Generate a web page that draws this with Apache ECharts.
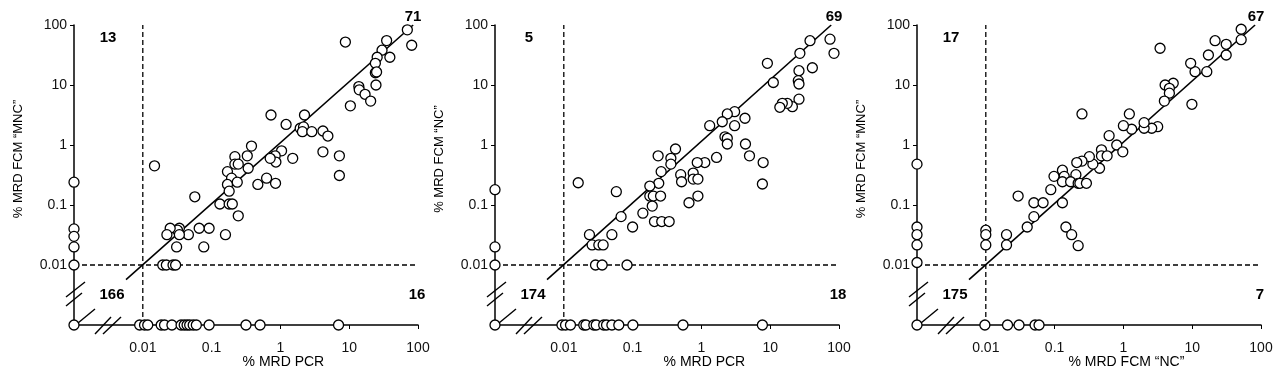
<!DOCTYPE html>
<html><head><meta charset="utf-8">
<script src="https://cdn.jsdelivr.net/npm/echarts@6/dist/echarts.min.js"></script>
<style>html,body{margin:0;padding:0;background:#fff}#c{width:1280px;height:375px}</style>
</head><body><div id="c"></div>
<script>
// ---------- data ----------
const tickValues = [0.01, 0.1, 1, 10, 100];
const tickLabels = ['0.01', '0.1', '1', '10', '100'];

const xTitles = ['% MRD PCR', '% MRD PCR', '% MRD FCM \u201CNC\u201D'];
const yTitles = ['% MRD FCM \u201CMNC\u201D', '% MRD FCM \u201CNC\u201D', '% MRD FCM \u201CMNC\u201D'];

// quadrant counts: [top-left, top-right, bottom-left, bottom-right]
const countsPanel1 = [13, 71, 166, 16];
const countsPanel2 = [5, 69, 174, 18];
const countsPanel3 = [17, 67, 175, 7];

// fitted line end points [x, y]
const linePanel1 = [[0.0057, 0.0057], [85, 100]];
const linePanel2 = [[0.0057, 0.0057], [77, 100]];
const linePanel3 = [[0.0057, 0.0057], [82, 100]];

// Panel 1: x = % MRD PCR, y = % MRD FCM "MNC" (0 = undetectable)
const pcrVsMnc = [
  [8.8,52],[70,83],[81,46],[35,55],[30,38],[39,29],[25.5,29],[24,23],[24,16],[25,16.5],
  [24.5,10],[13.8,9.4],[14,8.3],[17,7],[20.5,5.4],[10.4,4.5],[2.24,3.16],[0.73,3.16],[1.21,2.2],[1.94,1.9],
  [2.17,2.0],[2.09,1.67],[2.86,1.67],[4.15,1.71],[4.9,1.41],[4.15,0.77],[7.2,0.66],[7.2,0.31],[1.51,0.6],[1.04,0.8],
  [0.84,0.66],[0.86,0.52],[0.71,0.6],[0.38,0.96],[0.33,0.66],[0.34,0.41],[0.218,0.64],[0.218,0.48],[0.244,0.48],[0.17,0.36],
  [0.195,0.28],[0.236,0.24],[0.17,0.22],[0.47,0.22],[0.63,0.28],[0.85,0.23],[0.0148,0.45],[0.18,0.17],[0.057,0.137],[0.132,0.104],
  [0.18,0.104],[0.2,0.104],[0.244,0.066],[0.159,0.032],[0.092,0.041],[0.066,0.041],[0.077,0.02],[0.046,0.032],[0.034,0.041],[0.032,0.038],
  [0.034,0.032],[0.025,0.041],[0.0224,0.032],[0.031,0.02],[0.0195,0.01],[0.022,0.01],[0.0275,0.01],[0.030,0.01],
  [0,0.24],[0,0.04],[0,0.03],[0,0.02],[0,0.01],[0,0],
  [0.009,0],[0.0106,0],[0.0118,0],[0.0185,0],[0.0207,0],[0.0265,0],[0.036,0],[0.040,0],[0.044,0],[0.048,0],
  [0.054,0],[0.06,0],[0.092,0],[0.316,0],[0.506,0],[7.0,0]
];

// Panel 2: x = % MRD PCR, y = % MRD FCM "NC"
const pcrVsNc = [
  [74,58],[84.6,33.7],[37.9,54.7],[27,33.7],[41,19.4],[26.2,17.3],[25.6,11.8],[26.2,10.4],[26.2,5.8],[21,4.35],
  [17.7,4.95],[15,4.95],[13.8,4.25],[11.1,11],[9.1,23],[4.3,2.79],[3.04,3.59],[2.38,3.29],[2.01,2.44],[1.32,2.1],
  [3.04,2.1],[2.2,1.37],[2.38,1.29],[2.38,1.04],[4.37,1.04],[5.0,0.66],[7.9,0.51],[7.7,0.224],[1.66,0.62],[1.12,0.51],
  [0.87,0.51],[0.42,0.857],[0.36,0.6],[0.36,0.48],[0.235,0.66],[0.26,0.36],[0.24,0.23],[0.178,0.207],[0.5,0.32],[0.515,0.244],
  [0.76,0.34],[0.76,0.27],[0.89,0.27],[0.0162,0.235],[0.058,0.167],[0.178,0.141],[0.2,0.141],[0.255,0.141],[0.66,0.109],[0.89,0.141],
  [0.193,0.096],[0.141,0.073],[0.068,0.064],[0.1,0.043],[0.05,0.032],[0.208,0.053],[0.265,0.053],[0.34,0.053],[0.0236,0.032],[0.0258,0.0216],
  [0.0323,0.0216],[0.0373,0.0216],[0.0289,0.01],[0.0361,0.01],[0.083,0.01],
  [0,0.18],[0,0.02],[0,0.01],[0,0],
  [0.0094,0],[0.0106,0],[0.0125,0],[0.0195,0],[0.021,0],[0.0273,0],[0.0296,0],[0.038,0],[0.0418,0],[0.05,0],
  [0.063,0],[0.101,0],[0.54,0],[7.7,0]
];

// Panel 3: x = % MRD FCM "NC", y = % MRD FCM "MNC"
const ncVsMnc = [
  [51.5,85],[51.5,57],[31.2,47.7],[31.2,31.6],[21.5,54.7],[17.2,31.6],[16.3,16.7],[11,16.7],[9.5,23],[9.9,4.77],
  [5.3,10.7],[4.04,10],[4.66,8.8],[4.66,7.3],[3.94,5.4],[3.41,41],[3.15,2.02],[2.58,1.9],[2.0,1.9],[2.0,2.36],
  [1.22,3.29],[1.32,1.83],[1.0,2.1],[0.8,1.0],[0.98,0.77],[0.62,1.43],[0.48,0.83],[0.48,0.66],[0.58,0.66],[0.45,0.41],
  [0.36,0.48],[0.32,0.64],[0.25,0.54],[0.21,0.51],[0.25,3.29],[0.204,0.32],[0.13,0.38],[0.138,0.30],[0.098,0.30],[0.13,0.244],
  [0.171,0.244],[0.22,0.23],[0.233,0.23],[0.29,0.23],[0.088,0.18],[0.0295,0.141],[0.05,0.109],[0.068,0.109],[0.13,0.109],[0.05,0.064],
  [0.04,0.043],[0.146,0.043],[0.177,0.032],[0.22,0.021],[0.02,0.032],[0.02,0.0216],[0.01,0.038],[0.01,0.032],[0.01,0.0216],
  [0,0.48],[0,0.043],[0,0.032],[0,0.0216],[0,0.011],[0,0],
  [0.0097,0],[0.0207,0],[0.0304,0],[0.052,0],[0.0594,0]
];

// ---------- chart ----------
const ZERO_AT = 0.001;           // undetectable values are drawn at the axis start
const AXIS_MAX = 100;
const CUT = 0.01;
const FONT = '"Liberation Sans", Arial, Helvetica, sans-serif';

const panels = [
  { data: pcrVsMnc, counts: countsPanel1, line: linePanel1, left: 74 },
  { data: pcrVsNc,  counts: countsPanel2, line: linePanel2, left: 495 },
  { data: ncVsMnc,  counts: countsPanel3, line: linePanel3, left: 917 }
];

const place = v => (v === 0 ? ZERO_AT : v);

function fmt(v) {
  for (let i = 0; i < tickValues.length; i++) {
    if (Math.abs(Math.log10(v) - Math.log10(tickValues[i])) < 0.01) return tickLabels[i];
  }
  return '';
}

const axisCommon = {
  type: 'log', logBase: 10, min: ZERO_AT, max: AXIS_MAX,
  splitLine: { show: false },
  axisLine: { show: true, lineStyle: { color: '#000', width: 1.5 } },
  axisTick: { show: true, length: 4, lineStyle: { color: '#000', width: 1 } },
  minorTick: { show: false },
  axisLabel: { formatter: fmt, color: '#111', fontSize: 14, fontFamily: FONT }
};

const grid = [], xAxis = [], yAxis = [], series = [];
panels.forEach((p, i) => {
  grid.push({ left: p.left, top: 25, width: 344, height: 300 });
  xAxis.push(Object.assign({}, axisCommon, {
    gridIndex: i,
    axisLabel: Object.assign({}, axisCommon.axisLabel, { margin: 16 })
  }));
  yAxis.push(Object.assign({}, axisCommon, {
    gridIndex: i,
    axisLabel: Object.assign({}, axisCommon.axisLabel, { margin: 7 })
  }));
  const dashed = { color: '#000', width: 1.3, type: [5, 3] };
  series.push({
    type: 'line', xAxisIndex: i, yAxisIndex: i, symbol: 'none', silent: true, z: 1,
    lineStyle: dashed, data: [[ZERO_AT, CUT], [AXIS_MAX, CUT]]
  });
  series.push({
    type: 'line', xAxisIndex: i, yAxisIndex: i, symbol: 'none', silent: true, z: 1,
    lineStyle: dashed, data: [[CUT, ZERO_AT], [CUT, AXIS_MAX]]
  });
  series.push({
    type: 'line', xAxisIndex: i, yAxisIndex: i, symbol: 'none', silent: true, z: 1,
    lineStyle: { color: '#000', width: 1.6 }, data: p.line
  });
  series.push({
    type: 'scatter', xAxisIndex: i, yAxisIndex: i, z: 5,
    symbol: 'circle', symbolSize: 10,
    itemStyle: { color: '#fff', borderColor: '#000', borderWidth: 1.3, opacity: 1 },
    data: p.data.map(d => [place(d[0]), place(d[1])])
  });
});

const chart = echarts.init(document.getElementById('c'), null, { renderer: 'canvas' });
chart.setOption({ animation: false, backgroundColor: '#fff', grid, xAxis, yAxis, series });

// ---------- decorations: axis breaks, titles, quadrant counts ----------
const graphic = [];
function seg(x1, y1, x2, y2, w) {
  graphic.push({ type: 'line', z: 10, shape: { x1, y1, x2, y2 },
    style: { stroke: '#000', lineWidth: w || 1.4 } });
}
function txt(x, y, text, font, rot) {
  graphic.push({ type: 'text', z: 10, x, y, rotation: rot || 0,
    style: { text, x: 0, y: 0, font, fill: '#000',
      textAlign: 'center', textVerticalAlign: 'middle', align: 'center', verticalAlign: 'middle' } });
}
panels.forEach((p, i) => {
  const o = chart.convertToPixel({ gridIndex: i }, [ZERO_AT, ZERO_AT]);
  const tr = chart.convertToPixel({ gridIndex: i }, [AXIS_MAX, AXIS_MAX]);
  const c = chart.convertToPixel({ gridIndex: i }, [CUT, CUT]);
  // y-axis break
  seg(o[0] - 8, o[1] - 28, o[0] + 11, o[1] - 43);
  seg(o[0] - 8, o[1] - 19, o[0] + 8, o[1] - 32);
  // x-axis break
  seg(o[0] + 21, o[1] + 9, o[0] + 37, o[1] - 8);
  seg(o[0] + 29, o[1] + 9, o[0] + 47, o[1] - 8);
  // diagonal stub at origin
  seg(o[0] + 4, o[1] - 2, o[0] + 21, o[1] - 16);
  // titles
  txt((c[0] + tr[0]) / 2 + 3, o[1] + 37, xTitles[i], '14px ' + FONT, 0);
  txt(o[0] - 56, tr[1] + 134, yTitles[i], '13px ' + FONT, Math.PI / 2);
  // quadrant counts
  const bf = 'bold 15px ' + FONT;
  txt(o[0] + 34, tr[1] + 13, String(p.counts[0]), bf);
  txt(tr[0] - 5, tr[1] - 8, String(p.counts[1]), bf);
  txt(o[0] + 38, o[1] - 30, String(p.counts[2]), bf);
  txt(tr[0] - 1, o[1] - 30, String(p.counts[3]), bf);
});
chart.setOption({ graphic });
</script></body></html>
